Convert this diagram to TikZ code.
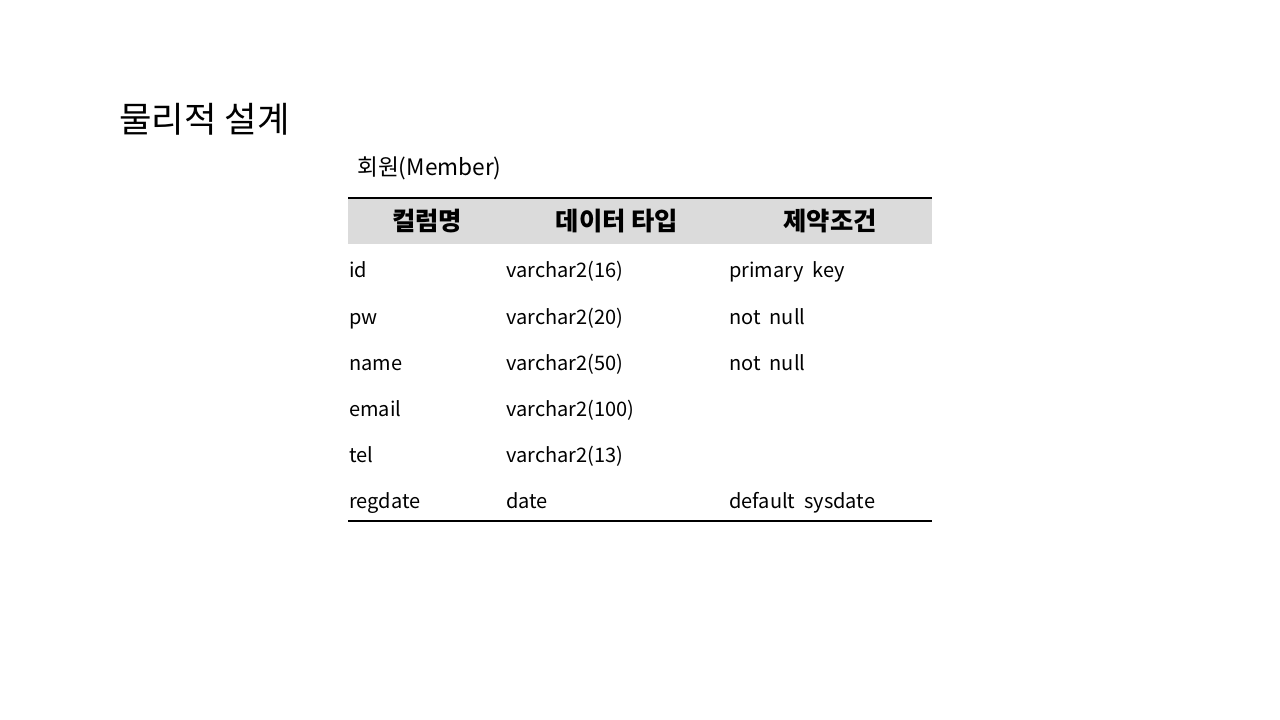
\documentclass[tikz,border=0pt]{standalone}
\usepackage{fontspec}
\setmainfont{Noto Sans CJK KR}
\begin{document}
\begin{tikzpicture}[x=0.75pt, y=-0.75pt]
    \tikzset{
      cell/.style={anchor=west, inner sep=0pt, text height=0.8em, text depth=0.25em, font=\fontsize{15}{18}\selectfont},
      head/.style={anchor=center, inner sep=0pt, text height=0.8em, text depth=0.2em, font=\fontsize{19}{22}\selectfont\bfseries}
    }
    \useasboundingbox (0,0) rectangle (1280,720);

    % Titles
    \node[anchor=west, inner sep=0pt, text height=0.8em, text depth=0.2em, font=\fontsize{26.5}{30}\selectfont] (title) at (119, 129) {물리적 설계};
    \node[anchor=west, inner sep=0pt, text height=0.8em, text depth=0.25em, font=\fontsize{17}{20}\selectfont] (subtitle) at (357, 172) {회원(Member)};

    % Header band and rules
    \fill[gray!28] (348, 199) rectangle (932, 244);
    \draw[line width=2.2pt] (348, 198) -- (932, 198);
    \draw[line width=1.6pt] (348, 521) -- (932, 521);

    \node[head] (h1) at (427, 227) {컬럼명};
    \node[head] (h2) at (617, 227) {데이터 타입};
    \node[head] (h3) at (830, 227) {제약조건};

    % Rows
    \foreach \y/\col/\type/\cons [count=\i] in
    { 274/id/varchar2(16)/primary\ \ key, 321/pw/varchar2(20)/not\ \ null, 367/name/varchar2(50)/not\ \ null, 413/email/varchar2(100)/, 459/tel/varchar2(13)/, 505/regdate/date/default\ \ sysdate }
    {
      \node[cell] (col-\i) at (349, \y) {\col};
      \node[cell] (type-\i) at (506, \y) {\type};
      \node[cell] (cons-\i) at (729, \y) {\cons};
    }
\end{tikzpicture}
\end{document}
